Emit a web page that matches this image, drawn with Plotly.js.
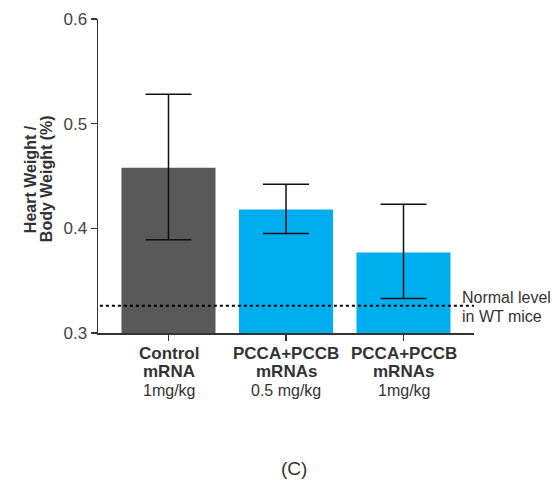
<!DOCTYPE html>
<html><head><meta charset="utf-8">
<script src="https://cdn.plot.ly/plotly-3.0.1.min.js"></script>
<style>body{margin:0;background:#fff}#chart{width:554px;height:481px}</style>
</head><body><div id="chart"></div>
<script>
const categories = ['Control', 'PCCA05', 'PCCA1'];
const tickLine1 = ['Control', 'PCCA+PCCB', 'PCCA+PCCB'];
const tickLine2 = ['mRNA', 'mRNAs', 'mRNAs'];
const tickLine3 = ['1mg/kg', '0.5 mg/kg', '1mg/kg'];
const means = [0.458, 0.418, 0.377];
const errUpper = [0.070, 0.024, 0.046];
const errLower = [0.069, 0.023, 0.044];
const barColors = ['#595959', '#00aeef'];
const normalLevel = 0.326;
const yTicks = [0.3, 0.4, 0.5, 0.6];
const xIdx = [0, 1, 2];

const FONT = 'Liberation Sans, Arial, sans-serif';
const traces = [{
  type: 'bar', x: xIdx, y: means, width: 0.8,
  marker: {color: [barColors[0], barColors[1], barColors[1]], line: {width: 0}},
  error_y: {type: 'data', symmetric: false, array: errUpper, arrayminus: errLower, color: '#111', thickness: 1.5, width: 23},
  hoverinfo: 'none'
}];

const annotations = [];
const pyToPaper = py => (333 - py) / 314;
xIdx.forEach(i => {
  annotations.push({xref: 'x', yref: 'paper', x: i, y: pyToPaper(353), xanchor: 'center', yanchor: 'middle', showarrow: false,
    text: '<b>' + tickLine1[i] + '</b>', font: {size: 17, color: '#333', family: FONT}});
  annotations.push({xref: 'x', yref: 'paper', x: i, y: pyToPaper(371), xanchor: 'center', yanchor: 'middle', showarrow: false,
    text: '<b>' + tickLine2[i] + '</b>', font: {size: 17, color: '#333', family: FONT}});
  annotations.push({xref: 'x', yref: 'paper', x: i, y: pyToPaper(390), xanchor: 'center', yanchor: 'middle', showarrow: false,
    text: tickLine3[i], font: {size: 16, color: '#333', family: FONT}});
});
annotations.push({xref: 'paper', yref: 'paper', x: (30 - 98) / 376, y: 0.49, textangle: -90, xanchor: 'center', yanchor: 'middle', showarrow: false,
  text: '<b>Heart Weight /</b>', font: {size: 16, color: '#333', family: FONT}});
annotations.push({xref: 'paper', yref: 'paper', x: (46 - 98) / 376, y: 0.49, textangle: -90, xanchor: 'center', yanchor: 'middle', showarrow: false,
  text: '<b>Body Weight (%)</b>', font: {size: 16, color: '#333', family: FONT}});
annotations.push({xref: 'paper', yref: 'paper', x: 0.963, y: pyToPaper(297), xanchor: 'left', yanchor: 'middle', showarrow: false,
  text: 'Normal level', font: {size: 16, color: '#333', family: FONT}});
annotations.push({xref: 'paper', yref: 'paper', x: 0.963, y: pyToPaper(316), xanchor: 'left', yanchor: 'middle', showarrow: false,
  text: 'in WT mice', font: {size: 16, color: '#333', family: FONT}});
annotations.push({xref: 'paper', yref: 'paper', x: (294 - 98) / 376, y: pyToPaper(468), xanchor: 'center', yanchor: 'middle', showarrow: false,
  text: '(C)', font: {size: 19, color: '#333', family: FONT}});

const layout = {
  width: 554, height: 481,
  margin: {l: 98, r: 80, t: 19, b: 148},
  paper_bgcolor: '#fff', plot_bgcolor: '#fff',
  showlegend: false,
  font: {family: FONT, color: '#333'},
  xaxis: {
    range: [-0.6, 2.6], tickvals: xIdx, showticklabels: false,
    showline: true, linecolor: '#333', linewidth: 1.5,
    ticks: 'outside', ticklen: 6, tickwidth: 1.5, tickcolor: '#333',
    showgrid: false, zeroline: false
  },
  yaxis: {
    range: [0.3, 0.6], tickvals: yTicks, ticktext: yTicks.map(v => v.toFixed(1)),
    showline: true, linecolor: '#333', linewidth: 1.5,
    ticks: 'outside', ticklen: 6, tickwidth: 1.5, tickcolor: '#333',
    tickfont: {size: 17, color: '#444', family: FONT}, showgrid: false, zeroline: false
  },
  shapes: [{type: 'line', xref: 'paper', yref: 'y', x0: 0.005, x1: 1.0, y0: normalLevel, y1: normalLevel,
    line: {color: '#000', width: 2, dash: 'dot'}}],
  annotations: annotations
};
Plotly.newPlot('chart', traces, layout, {displayModeBar: false, staticPlot: true});
</script></body></html>
